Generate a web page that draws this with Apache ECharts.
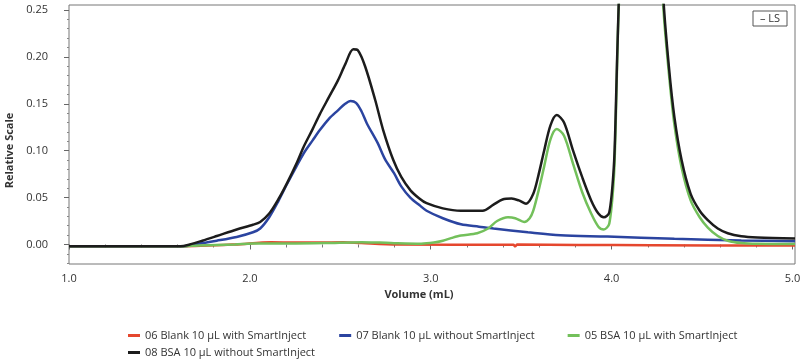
<!DOCTYPE html>
<html>
<head>
<meta charset="utf-8">
<script src="https://cdn.jsdelivr.net/npm/echarts@6/dist/echarts.min.js"></script>
<style>html,body{margin:0;padding:0;background:#fff}#c{width:800px;height:364px}</style>
</head>
<body>
<div id="c"></div>
<script>
// ---- data: [volume (mL), relative scale] ----
const seriesNames = [
  '06 Blank 10 µL with SmartInject',
  '07 Blank 10 µL without SmartInject',
  '05 BSA 10 µL with SmartInject',
  '08 BSA 10 µL without SmartInject'
];
const seriesColors = ['#e5472e', '#2b44a0', '#73c05b', '#1c1c1c'];

const blankWith = [[1.0,-0.0019],[1.617,-0.0019],[1.917,0.0],[2.117,0.0025],[2.317,0.002],[2.517,0.0025],[2.617,0.0015],[2.817,0.0],[3.457,-0.0003],[3.467,-0.002],[3.477,0.0],[3.817,-0.0005],[4.217,-0.0008],[5.014,-0.0012]];

const blankWithout = [[1.0,-0.002],[1.617,-0.002],[1.667,-0.001],[1.737,0.0015],[1.817,0.004],[1.927,0.008],[2.017,0.013],[2.057,0.017],[2.107,0.029],[2.157,0.046],[2.207,0.065],[2.257,0.083],[2.297,0.097],[2.347,0.111],[2.387,0.122],[2.437,0.134],[2.487,0.143],[2.527,0.150],[2.557,0.153],[2.587,0.151],[2.617,0.142],[2.647,0.129],[2.707,0.108],[2.747,0.091],[2.797,0.076],[2.837,0.062],[2.887,0.050],[2.937,0.042],[2.977,0.036],[3.067,0.028],[3.167,0.0215],[3.267,0.019],[3.347,0.017],[3.537,0.013],[3.717,0.0098],[3.977,0.0085],[4.347,0.006],[4.717,0.0043],[5.014,0.0035]];

const bsaWith = [[1.0,-0.002],[1.617,-0.002],[1.717,-0.001],[1.917,0.0],[2.017,0.001],[2.217,0.001],[2.417,0.0015],[2.617,0.0025],[2.717,0.002],[2.797,0.0014],[2.947,0.0008],[3.017,0.002],[3.067,0.004],[3.117,0.007],[3.167,0.0095],[3.257,0.012],[3.317,0.017],[3.367,0.025],[3.427,0.029],[3.467,0.028],[3.517,0.024],[3.547,0.028],[3.567,0.036],[3.597,0.058],[3.627,0.083],[3.662,0.112],[3.697,0.123],[3.737,0.116],[3.787,0.086],[3.837,0.056],[3.887,0.033],[3.927,0.019],[3.957,0.016],[3.987,0.022],[4.012,0.07],[4.022,0.125],[4.039,0.25],[4.077,0.41],[4.167,0.58],[4.237,0.43],[4.287,0.25],[4.317,0.182],[4.347,0.128],[4.387,0.082],[4.437,0.047],[4.487,0.029],[4.532,0.018],[4.587,0.009],[4.642,0.004],[4.717,0.0015],[4.807,0.0007],[5.014,0.0005]];

const bsaWithout = [[1.0,-0.002],[1.317,-0.002],[1.617,-0.002],[1.667,0.0],[1.737,0.004],[1.817,0.009],[1.927,0.016],[2.017,0.021],[2.057,0.024],[2.107,0.033],[2.157,0.048],[2.207,0.066],[2.257,0.086],[2.297,0.104],[2.347,0.123],[2.387,0.139],[2.437,0.157],[2.487,0.175],[2.527,0.192],[2.572,0.208],[2.597,0.207],[2.637,0.19],[2.693,0.154],[2.737,0.122],[2.793,0.09],[2.837,0.072],[2.887,0.058],[2.937,0.049],[2.977,0.044],[3.067,0.0385],[3.167,0.036],[3.287,0.036],[3.347,0.0425],[3.397,0.048],[3.447,0.049],[3.487,0.047],[3.527,0.0435],[3.567,0.054],[3.597,0.075],[3.627,0.100],[3.662,0.127],[3.697,0.138],[3.737,0.130],[3.787,0.100],[3.837,0.072],[3.887,0.047],[3.927,0.033],[3.957,0.029],[3.987,0.034],[4.012,0.082],[4.022,0.135],[4.039,0.255],[4.077,0.42],[4.167,0.6],[4.237,0.45],[4.287,0.26],[4.317,0.189],[4.347,0.136],[4.387,0.090],[4.437,0.054],[4.487,0.036],[4.532,0.026],[4.587,0.017],[4.642,0.012],[4.717,0.0088],[4.807,0.0075],[5.014,0.0063]];

// ---- axes / ticks ----
const xMajorTicks = [1, 2, 3, 4, 5];
const xMinorTicks = [1.2,1.4,1.6,1.8,2.2,2.4,2.6,2.8,3.2,3.4,3.6,3.8,4.2,4.4,4.6,4.8];
const yMajorTicks = [0, 0.05, 0.1, 0.15, 0.2, 0.25];
const yMinorTicks = [-0.02,-0.01,0.01,0.02,0.03,0.04,0.06,0.07,0.08,0.09,0.11,0.12,0.13,0.14,0.16,0.17,0.18,0.19,0.21,0.22,0.23,0.24];
const xMin = 1.0, xMax = 5.014, yMin = -0.0208, yMax = 0.2553;

const FONT = '"Open Sans"';
const chart = echarts.init(document.getElementById('c'), null, {renderer: 'canvas'});
const dataSets = [blankWith, blankWithout, bsaWith, bsaWithout];
const legendText = {fontFamily: FONT, fontSize: 11, color: '#333'};

const option = {
  animation: false,
  backgroundColor: '#fff',
  textStyle: {fontFamily: FONT},
  grid: {left: 69, right: 5, top: 5, bottom: 100, show: true, borderColor: '#777', borderWidth: 1,
         backgroundColor: 'transparent', containLabel: false, outerBoundsMode: 'none'},
  legend: [
    {data: seriesNames.slice(0, 3), left: 128, top: 330, itemGap: 33, itemWidth: 12, itemHeight: 3, icon: 'rect',
     textStyle: legendText, padding: 0},
    {data: seriesNames.slice(3), left: 128, top: 347, itemWidth: 12, itemHeight: 3, icon: 'rect',
     textStyle: legendText, padding: 0}
  ],
  xAxis: [
    {type: 'value', min: xMin, max: xMax, position: 'bottom',
     name: 'Volume (mL)', nameLocation: 'middle', nameGap: 25,
     nameTextStyle: {fontFamily: FONT, fontWeight: 'bold', fontSize: 11, color: '#333', padding: [0, 26, 0, 0]},
     axisLine: {show: false},
     axisTick: {show: true, customValues: xMajorTicks, length: 5, lineStyle: {color: '#666'}},
     axisLabel: {customValues: xMajorTicks, formatter: v => v.toFixed(1), margin: 9, fontSize: 11, color: '#333', fontFamily: FONT},
     splitLine: {show: false}},
    {type: 'value', min: xMin, max: xMax, position: 'bottom',
     axisLine: {show: false},
     axisTick: {show: true, customValues: xMinorTicks, length: 3, lineStyle: {color: '#777'}},
     axisLabel: {show: false}, splitLine: {show: false}}
  ],
  yAxis: [
    {type: 'value', min: yMin, max: yMax, position: 'left',
     name: 'Relative Scale', nameLocation: 'middle', nameGap: 53, nameRotate: 90,
     nameTextStyle: {fontFamily: FONT, fontWeight: 'bold', fontSize: 11, color: '#333', padding: [0, 32, 0, 0]},
     axisLine: {show: false},
     axisTick: {show: true, customValues: yMajorTicks, length: 5, lineStyle: {color: '#666'}},
     axisLabel: {customValues: yMajorTicks, formatter: v => v.toFixed(2), margin: 21, fontSize: 11, color: '#333', fontFamily: FONT},
     splitLine: {show: false}},
    {type: 'value', min: yMin, max: yMax, position: 'left',
     axisLine: {show: false},
     axisTick: {show: true, customValues: yMinorTicks, length: 2, lineStyle: {color: '#888'}},
     axisLabel: {show: false}, splitLine: {show: false}}
  ],
  graphic: [
    {type: 'rect', shape: {x: 753, y: 11, width: 34, height: 15}, style: {fill: '#fff', stroke: '#555', lineWidth: 1}, z: 100},
    {type: 'text', x: 770, y: 18.5, style: {text: '– LS', fontFamily: FONT, fontSize: 11, fill: '#333', align: 'center', verticalAlign: 'middle'}, z: 101}
  ],
  series: dataSets.map((d, i) => ({
    name: seriesNames[i], type: 'line', data: d, xAxisIndex: 0, yAxisIndex: 0,
    showSymbol: false, symbol: 'none', smooth: 0.3, clip: true,
    lineStyle: {width: 2.5, color: seriesColors[i]}, itemStyle: {color: seriesColors[i]}, z: 2 + i
  }))
};
chart.setOption(option);
</script>
</body>
</html>
